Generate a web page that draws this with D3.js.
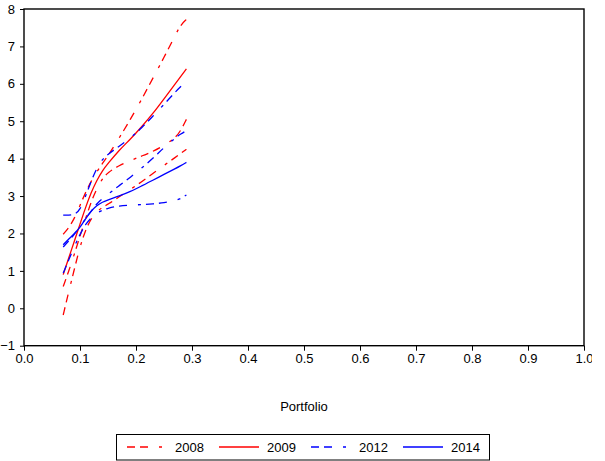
<!DOCTYPE html>
<html>
<head>
<meta charset="utf-8">
<script src="https://cdn.jsdelivr.net/npm/d3@7"></script>
<style>
  body { margin: 0; background: #fff; }
  svg { display: block; overflow: hidden; }
  text { font-family: "Liberation Sans", Arial, sans-serif; font-size: 13px; fill: #000; }
</style>
</head>
<body>
<div id="container"></div>
<script>
// x grid (portfolio) shared by all curves
var xs = [0.07, 0.08, 0.09, 0.10, 0.11, 0.12, 0.13, 0.14, 0.15, 0.17, 0.19, 0.21, 0.23, 0.25, 0.27, 0.28, 0.29];

// 2008 (dashed, with bands)
var y2008Upper = [1.98, 2.15, 2.4, 2.75, 3.1, 3.4, 3.65, 3.87, 4.08, 4.55, 5.05, 5.58, 6.15, 6.7, 7.3, 7.58, 7.72];
var y2008Mid   = [0.58, 1.0, 1.45, 1.93, 2.4, 2.85, 3.2, 3.47, 3.63, 3.82, 3.95, 4.07, 4.19, 4.35, 4.55, 4.75, 5.05];
var y2008Lower = [-0.18, 0.45, 1.05, 1.65, 2.1, 2.4, 2.58, 2.7, 2.78, 2.98, 3.18, 3.38, 3.6, 3.82, 4.03, 4.14, 4.25];
// 2009 (solid)
var y2009 = [0.9, 1.35, 1.8, 2.25, 2.7, 3.1, 3.42, 3.68, 3.87, 4.23, 4.52, 4.85, 5.2, 5.6, 6.0, 6.2, 6.4];
// 2012 (dashed, with bands)
var y2012Upper = [2.49, 2.49, 2.5, 2.62, 3.0, 3.4, 3.75, 3.98, 4.12, 4.33, 4.55, 4.82, 5.13, 5.45, 5.78, 5.93, 6.07];
var y2012Mid   = [1.64, 1.8, 1.98, 2.18, 2.4, 2.6, 2.8, 2.93, 3.05, 3.28, 3.5, 3.75, 4.0, 4.3, 4.55, 4.66, 4.75];
var y2012Lower = [0.94, 1.3, 1.65, 1.98, 2.25, 2.42, 2.55, 2.62, 2.68, 2.74, 2.76, 2.77, 2.79, 2.82, 2.88, 2.93, 3.03];
// 2014 (solid)
var y2014 = [1.7, 1.85, 2.0, 2.15, 2.4, 2.6, 2.75, 2.84, 2.9, 3.0, 3.12, 3.27, 3.42, 3.58, 3.73, 3.81, 3.9];

var xTicks = [0.0, 0.1, 0.2, 0.3, 0.4, 0.5, 0.6, 0.7, 0.8, 0.9, 1.0];
var yTicks = [-1, 0, 1, 2, 3, 4, 5, 6, 7, 8];
var legendNames = ["2008", "2009", "2012", "2014"];

var red = "#ff0000", blue = "#0000ff";
var dashDot = "8,5,8,11,3,5";

var series = [
  { key: "2008", vals: y2008Upper, color: red, dash: dashDot },
  { key: "2008", vals: y2008Mid, color: red, dash: dashDot },
  { key: "2008", vals: y2008Lower, color: red, dash: dashDot },
  { key: "2009", vals: y2009, color: red, dash: null },
  { key: "2012", vals: y2012Upper, color: blue, dash: dashDot },
  { key: "2012", vals: y2012Mid, color: blue, dash: dashDot },
  { key: "2012", vals: y2012Lower, color: blue, dash: dashDot },
  { key: "2014", vals: y2014, color: blue, dash: null }
];

var W = 592, H = 461;
var plotL = 24, plotR = 584, plotT = 9, plotB = 345.7;

var svg = d3.select("#container").append("svg")
  .attr("width", W)
  .attr("height", H);

var x = d3.scaleLinear().domain([0, 1]).range([plotL, plotR]);
var y = d3.scaleLinear().domain([-1, 8]).range([plotB, plotT]);

// axes
var xAxis = svg.append("g")
  .attr("transform", "translate(0," + plotB + ")")
  .call(d3.axisBottom(x).tickValues(xTicks).tickFormat(d3.format(".1f")).tickSizeOuter(0).tickSize(5).tickPadding(3));
var yAxis = svg.append("g")
  .attr("transform", "translate(" + plotL + ",0)")
  .call(d3.axisLeft(y).tickValues(yTicks).tickFormat(d3.format("d")).tickSizeOuter(0).tickSize(4).tickPadding(5));

[xAxis, yAxis].forEach(function (g) {
  g.select(".domain").remove();
  g.selectAll("line").attr("stroke", "#000");
  g.selectAll("text").attr("font-family", null).attr("font-size", null);
});

// frame
svg.append("rect")
  .attr("x", plotL)
  .attr("y", plotT)
  .attr("width", plotR - plotL)
  .attr("height", plotB - plotT)
  .attr("fill", "none")
  .attr("stroke", "#000")
  .attr("stroke-width", 1.4);

// curves
var line = d3.line()
  .x(function (d, i) { return x(xs[i]); })
  .y(function (d) { return y(d); })
  .curve(d3.curveBasis);

svg.append("g")
  .selectAll("path")
  .data(series)
  .enter()
  .append("path")
  .attr("d", function (d) { return line(d.vals); })
  .attr("fill", "none")
  .attr("stroke", function (d) { return d.color; })
  .attr("stroke-width", 1.3)
  .attr("stroke-dasharray", function (d) { return d.dash; });

// x title
svg.append("text")
  .attr("x", 304)
  .attr("y", 411)
  .attr("text-anchor", "middle")
  .text("Portfolio");

// legend
var legend = svg.append("g");
legend.append("rect")
  .attr("x", 116.5)
  .attr("y", 434.5)
  .attr("width", 373)
  .attr("height", 25.5)
  .attr("fill", "none")
  .attr("stroke", "#000");

var legendItems = legendNames.map(function (name) {
  return series.filter(function (s) { return s.key === name; })[0];
});
var legendX = d3.scalePoint().domain(legendNames).range([127, 403]);

var item = legend.selectAll("g.item")
  .data(legendItems)
  .enter()
  .append("g")
  .attr("class", "item")
  .attr("transform", function (d) { return "translate(" + legendX(d.key) + ",447)"; });

item.append("line")
  .attr("x1", 0)
  .attr("x2", 40)
  .attr("stroke", function (d) { return d.color; })
  .attr("stroke-width", 1.3)
  .attr("stroke-dasharray", function (d) { return d.dash; });

item.append("text")
  .attr("x", 48)
  .attr("y", 4.5)
  .text(function (d) { return d.key; });
</script>
</body>
</html>
